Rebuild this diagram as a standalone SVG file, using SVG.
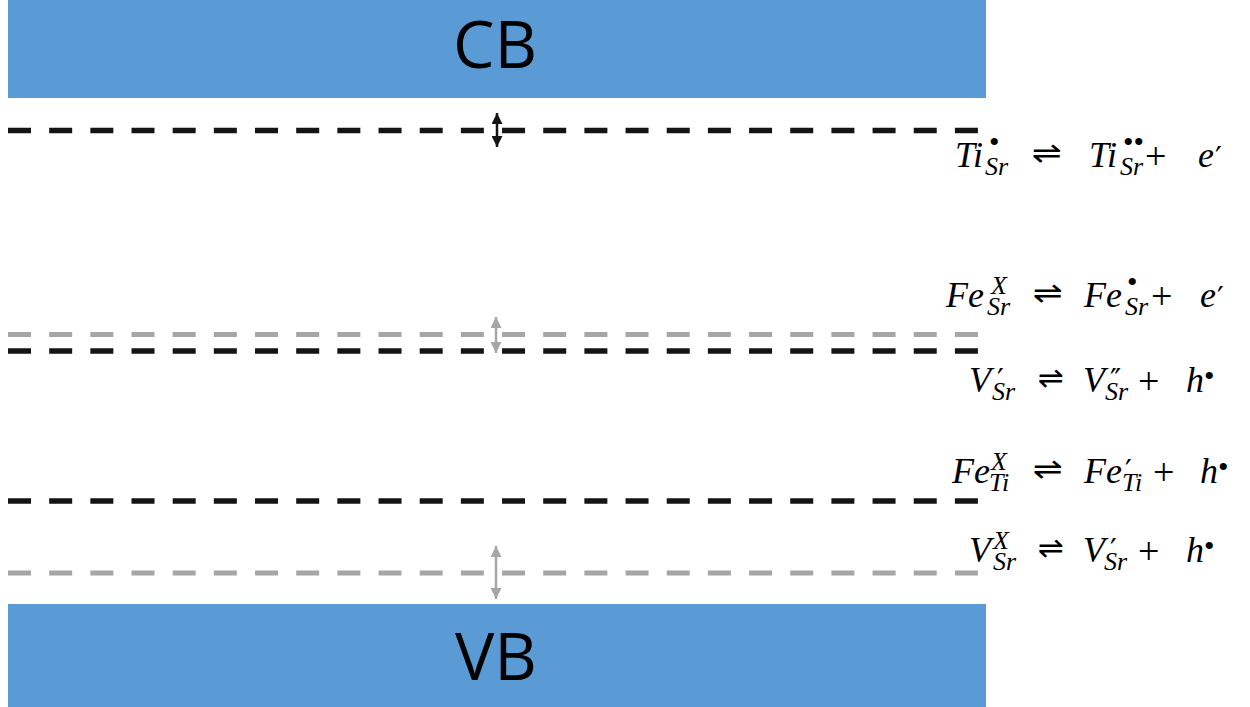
<svg xmlns="http://www.w3.org/2000/svg" width="1250" height="707" viewBox="0 0 1250 707">
<style>
.band{fill:#5B9BD5}
.bl{font-family:"Open Sans","Liberation Sans",sans-serif;font-size:66px;fill:#000;text-anchor:middle}
.dk{stroke:#141414;stroke-width:5.5;stroke-dasharray:23 18.17;fill:none}
.gy{stroke:#A6A6A6;stroke-width:5;stroke-dasharray:23 18.17;fill:none}
.m{font-family:"Liberation Serif","DejaVu Serif",serif;font-style:italic;font-size:36px;fill:#000}
.s{font-family:"Liberation Serif","DejaVu Serif",serif;font-style:italic;font-size:26px;fill:#000}
.d{font-family:"Liberation Serif","DejaVu Serif",serif;font-size:30px;fill:#000}
.pr{font-family:"DejaVu Sans","Liberation Serif",sans-serif;font-size:30px;fill:#000}
.op{font-family:"DejaVu Sans",sans-serif;font-size:30px;fill:#000}
.pl{font-family:"Liberation Serif","DejaVu Serif",serif;font-size:38px;fill:#000}
</style>
<defs>
<marker id="ak" viewBox="0 0 10 10" refX="10" refY="5" markerWidth="11" markerHeight="11" markerUnits="userSpaceOnUse" orient="auto-start-reverse"><path d="M0,0 L10,5 L0,10 z" fill="#141414"/></marker>
<marker id="ag" viewBox="0 0 10 10" refX="10" refY="5" markerWidth="11" markerHeight="11" markerUnits="userSpaceOnUse" orient="auto-start-reverse"><path d="M0,0 L10,5 L0,10 z" fill="#A6A6A6"/></marker>
</defs>
<g id="cb"><rect class="band" x="8" y="0" width="978" height="98"/><text class="bl" x="495" y="68">CB</text></g>
<g id="vb"><rect class="band" x="8" y="604" width="978" height="103"/><text class="bl" x="496" y="680">VB</text></g>
<g id="levels">
<line class="dk" x1="8" y1="130.5" x2="978" y2="130.5"/>
<line class="gy" x1="8" y1="334.5" x2="978" y2="334.5"/>
<line class="dk" x1="8" y1="351" x2="978" y2="351"/>
<line class="dk" x1="8" y1="501" x2="978" y2="501"/>
<line class="gy" x1="8" y1="573" x2="978" y2="573"/>
</g>
<g id="connectors">
<line x1="497" y1="113" x2="497" y2="147" stroke="#141414" stroke-width="2.5" marker-start="url(#ak)" marker-end="url(#ak)"/>
<line x1="496" y1="317" x2="496" y2="353" stroke="#A6A6A6" stroke-width="2.5" marker-start="url(#ag)" marker-end="url(#ag)"/>
<line x1="496" y1="546" x2="496" y2="599" stroke="#A6A6A6" stroke-width="2.5" marker-start="url(#ag)" marker-end="url(#ag)"/>
</g>
<g id="eq1">
<text class="m" x="955" y="167">Ti</text>
<text class="d" x="989" y="152">•</text>
<text class="s" x="985" y="175">Sr</text>
<text class="op" x="1032" y="163" textLength="30" lengthAdjust="spacingAndGlyphs">⇌</text>
<text class="m" x="1089" y="167">Ti</text>
<text class="d" x="1123" y="152">••</text>
<text class="s" x="1120" y="175">Sr</text>
<text class="pl" x="1145" y="169">+</text>
<text class="m" x="1198" y="167">e</text>
<text class="pr" x="1215" y="168">′</text>
</g>
<g id="eq2">
<text class="m" x="946" y="307">Fe</text>
<text class="s" x="991" y="294">X</text>
<text class="s" x="987" y="315">Sr</text>
<text class="op" x="1033" y="303" textLength="30" lengthAdjust="spacingAndGlyphs">⇌</text>
<text class="m" x="1084" y="307">Fe</text>
<text class="d" x="1127" y="292">•</text>
<text class="s" x="1125" y="315">Sr</text>
<text class="pl" x="1151" y="309">+</text>
<text class="m" x="1200" y="307">e</text>
<text class="pr" x="1217" y="308">′</text>
</g>
<g id="eq3">
<text class="m" x="969" y="392">V</text>
<text class="pr" x="997" y="390">′</text>
<text class="s" x="992" y="400">Sr</text>
<text class="op" x="1038" y="388" textLength="26" lengthAdjust="spacingAndGlyphs">⇌</text>
<text class="m" x="1083" y="392">V</text>
<text class="pr" x="1110" y="390">″</text>
<text class="s" x="1105" y="400">Sr</text>
<text class="pl" x="1138" y="394">+</text>
<text class="m" x="1186" y="392">h</text>
<text class="d" x="1204" y="386">•</text>
</g>
<g id="eq4">
<text class="m" x="952" y="483">Fe</text>
<text class="s" x="991" y="470">X</text>
<text class="s" x="989" y="491">Ti</text>
<text class="op" x="1033" y="479" textLength="30" lengthAdjust="spacingAndGlyphs">⇌</text>
<text class="m" x="1084" y="483">Fe</text>
<text class="pr" x="1125" y="481">′</text>
<text class="s" x="1122" y="491">Ti</text>
<text class="pl" x="1153" y="485">+</text>
<text class="m" x="1200" y="483">h</text>
<text class="d" x="1218" y="477">•</text>
</g>
<g id="eq5">
<text class="m" x="969" y="562">V</text>
<text class="s" x="993" y="549">X</text>
<text class="s" x="993" y="570">Sr</text>
<text class="op" x="1038" y="558" textLength="26" lengthAdjust="spacingAndGlyphs">⇌</text>
<text class="m" x="1083" y="562">V</text>
<text class="pr" x="1110" y="560">′</text>
<text class="s" x="1104" y="570">Sr</text>
<text class="pl" x="1138" y="564">+</text>
<text class="m" x="1186" y="562">h</text>
<text class="d" x="1204" y="556">•</text>
</g>
</svg>
